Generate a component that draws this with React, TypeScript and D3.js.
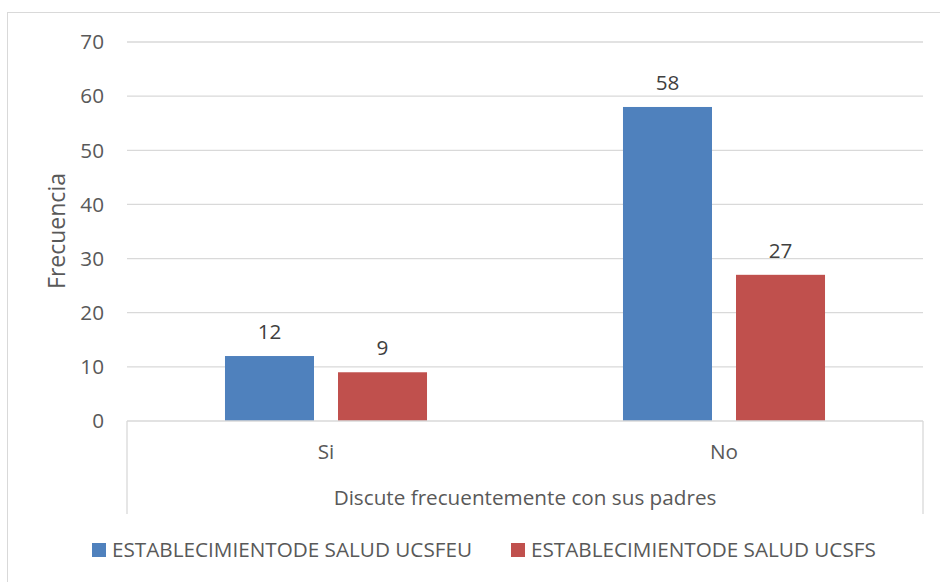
import React from "react";
import * as d3 from "d3";

const categories = ["Si", "No"];
const seriesNames = ["ESTABLECIMIENTODE SALUD UCSFEU", "ESTABLECIMIENTODE SALUD UCSFS"];
const seriesUCSFEU = [12, 58];
const seriesUCSFS = [9, 27];
const yTicks = [0, 10, 20, 30, 40, 50, 60, 70];
const colors = ["#4f81bd", "#c0504d"];
const yTitle = "Frecuencia";
const xTitle = "Discute frecuentemente con sus padres";

const W = 940;
const H = 582;
const FONT = "'Open Sans', sans-serif";
const FS = 20.7;

export default function App() {
  const left = 127;
  const right = 923;
  const y = d3.scaleLinear().domain([0, 70]).range([421, 42]);
  const x = d3.scaleBand<string>().domain(categories).range([left, right]).paddingInner(0).paddingOuter(0);
  const inner = d3
    .scaleBand<number>()
    .domain([0, 1])
    .range([0, x.bandwidth()])
    .paddingInner(0.2124)
    .paddingOuter(0.867);
  const series = [seriesUCSFEU, seriesUCSFS];

  return (
    <svg
      width={W}
      height={H}
      style={{ position: "absolute", left: 0, top: 0, display: "block" }}
      fontFamily={FONT}
    >
      <rect x={0} y={0} width={W} height={H} fill="#fff" />
      <rect x={7.5} y={12.5} width={W} height={H} fill="none" stroke="#d9d9d9" strokeWidth={1} />
      {yTicks.map((t) => (
        <g key={t}>
          {t > 0 && (
            <line x1={left} x2={right} y1={y(t)} y2={y(t)} stroke="#d9d9d9" strokeWidth={1.3} />
          )}
          <text x={104} y={y(t)} dy="0.35em" textAnchor="end" fontSize={FS} fill="#595959">
            {t}
          </text>
        </g>
      ))}
      {categories.map((c, ci) =>
        series.map((s, si) => {
          const bx = (x(c) as number) + (inner(si) as number);
          const bw = inner.bandwidth();
          return (
            <g key={c + si}>
              <rect x={bx} y={y(s[ci])} width={bw} height={y(0) - y(s[ci])} fill={colors[si]} />
              <text
                x={bx + bw / 2}
                y={y(s[ci]) - 17}
                textAnchor="middle"
                fontSize={FS}
                fill="#404040"
              >
                {s[ci]}
              </text>
            </g>
          );
        })
      )}
      {/* category axis */}
      <line x1={left} x2={right} y1={y(0)} y2={y(0)} stroke="#d9d9d9" strokeWidth={1.3} />
      <line x1={left} x2={left} y1={y(0)} y2={514} stroke="#d9d9d9" strokeWidth={1.3} />
      <line x1={right} x2={right} y1={y(0)} y2={514} stroke="#d9d9d9" strokeWidth={1.3} />
      {categories.map((c) => (
        <text
          key={c}
          x={(x(c) as number) + x.bandwidth() / 2}
          y={459}
          textAnchor="middle"
          fontSize={FS}
          fill="#595959"
        >
          {c}
        </text>
      ))}
      <text x={(left + right) / 2} y={505} textAnchor="middle" fontSize={FS} fill="#595959">
        {xTitle}
      </text>
      <text
        transform={`translate(57,231) rotate(-90)`}
        textAnchor="middle"
        dy="0.35em"
        fontSize={23}
        fill="#595959"
      >
        {yTitle}
      </text>
      {/* legend */}
      {seriesNames.map((n, i) => {
        const lx = i === 0 ? 92 : 511;
        return (
          <g key={n}>
            <rect x={lx} y={543} width={14} height={14} fill={colors[i]} />
            <text x={lx + 20} y={550} dy="0.35em" fontSize={FS} fill="#595959">
              {n}
            </text>
          </g>
        );
      })}
    </svg>
  );
}
